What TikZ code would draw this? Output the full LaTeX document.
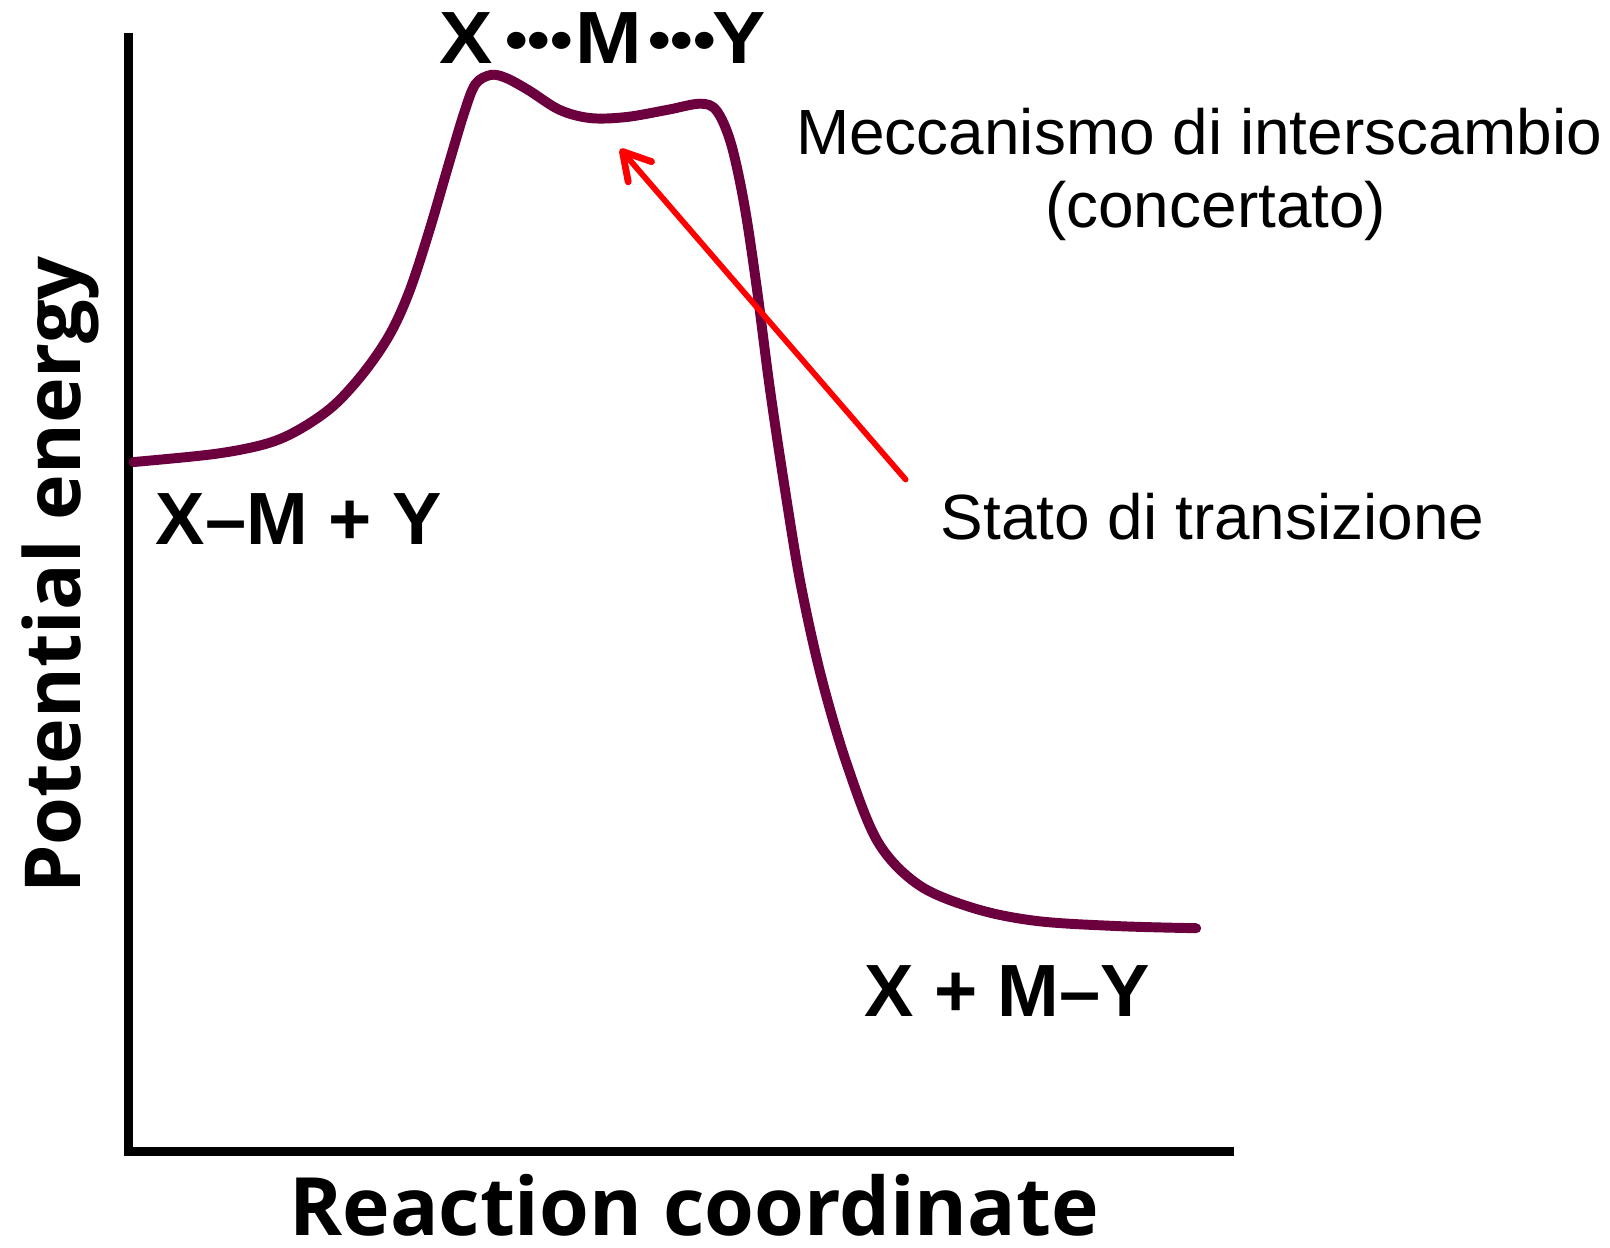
\documentclass[tikz,border=0pt]{standalone}
\usepackage{fontspec}
\setmainfont{Liberation Sans}
\newfontfamily\axisfont{Open Sans}
\usetikzlibrary{arrows.meta}
\definecolor{curvecol}{RGB}{108,0,62}
\definecolor{arrred}{RGB}{255,0,0}
\tikzset{
  axisline/.style={line width=2.5pt, black, line join=miter},
  curveline/.style={line width=2.75pt, curvecol, line join=round, line cap=round},
  species/.style={inner sep=0pt, anchor=base, font=\fontsize{20.5pt}{24pt}\selectfont\bfseries},
  axislabel/.style={inner sep=0pt, anchor=base, text depth=0pt, font=\axisfont\bfseries},
  note/.style={inner sep=0pt, anchor=base, font=\fontsize{17.7pt}{21pt}\selectfont},
  pointer/.style={line width=1.6pt, arrred, line cap=round,
    -{Straight Barb[length=0.26cm, width=0.30cm, line width=1.9pt, line cap=round, line join=round]}}
}
\newcommand{\tridots}{{\fontsize{16.5pt}{18pt}\selectfont\raisebox{0.8pt}{•••}}}
\begin{document}
\begin{tikzpicture}[x=0.01cm, y=-0.01cm]
\useasboundingbox (0,0) rectangle (1568,1215);
% axes
\coordinate (ytop) at (125,32);
\coordinate (orig) at (125,1121);
\coordinate (xend) at (1202,1121);
\draw[axisline] (ytop) -- (orig) -- (xend);
% energy curve
\draw[curveline] plot[smooth, tension=0.55] coordinates {
 (130,450) (210,442) (260,432) (292,418) (325,395) (355,362) (380,325) (399,283)
 (418,225) (437,160) (452,110) (463,82) (478,73) (493,76) (515,88) (545,107)
 (575,115) (610,114) (650,107) (682,101) (698,108) (712,140) (725,200) (737,280)
 (750,380) (765,480) (780,570) (800,660) (825,745) (855,820) (895,862) (950,885)
 (1010,897) (1090,902) (1165,904)};
% labels on curve
\node[species, xscale=1.08] (ts) at (587,62) {X\kern3.2pt\tridots\kern0.6pt M\kern1.6pt\tridots\kern-0.8pt Y};
\node[species] (react) at (291,530) {X–M + Y};
\node[species] (prod) at (981,990) {X + M–Y};
% axis labels
\node[axislabel, font=\axisfont\bfseries\fontsize{22.3pt}{26pt}\selectfont] (xlab) at (676,1203) {Reaction coordinate};
\node[axislabel, font=\axisfont\bfseries\fontsize{21.4pt}{26pt}\selectfont, rotate=90] (ylab) at (78,560) {Potential energy};
% notes
\node[note] (mech1) at (1168,150) {Meccanismo di interscambio};
\node[note] (mech2) at (1184,222) {(concertato)};
\node[note] (stato) at (1181,525) {Stato di transizione};
% pointer
\coordinate (tail) at (882,467);
\coordinate (tip) at (604,145);
\draw[pointer] (tail) -- (tip);
\end{tikzpicture}
\end{document}
